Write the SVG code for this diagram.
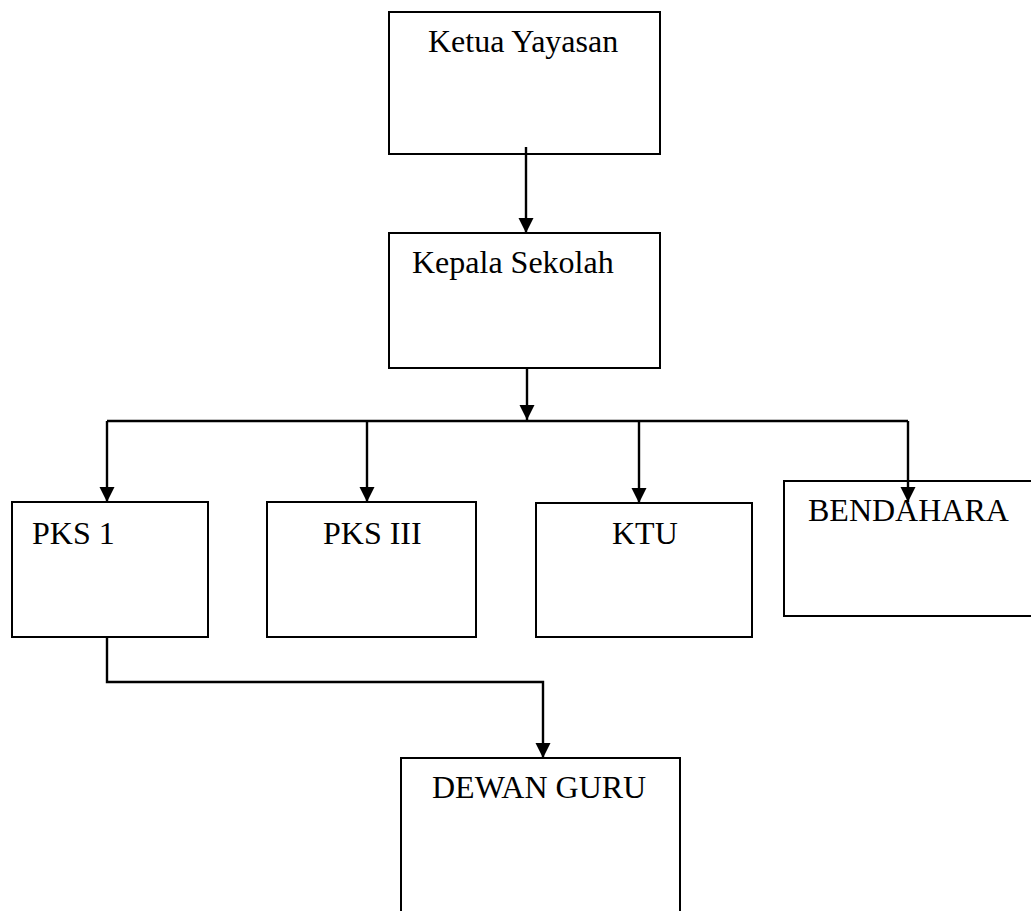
<svg xmlns="http://www.w3.org/2000/svg" width="1031" height="911" viewBox="0 0 1031 911">
<style>
.box{fill:#fff;stroke:#000;stroke-width:2}
.lbl{font-family:"Liberation Serif","Times New Roman",serif;font-size:32px;fill:#000}
.con{fill:none;stroke:#000;stroke-width:2.4}
</style>
<defs>
<marker id="ah" markerUnits="userSpaceOnUse" markerWidth="16" markerHeight="16" viewBox="0 0 16 16" refX="15" refY="8" orient="auto">
<path d="M0,0.5 L15,8 L0,15.5 Z" fill="#000"/>
</marker>
</defs>
<rect width="1031" height="911" fill="#fff"/>
<g id="ketua"><rect class="box" x="389" y="12" width="271" height="142"/><text class="lbl" x="428" y="52">Ketua Yayasan</text></g>
<g id="kepala"><rect class="box" x="389" y="233" width="271" height="135"/><text class="lbl" x="412" y="273">Kepala Sekolah</text></g>
<g id="pks1"><rect class="box" x="12" y="502" width="196" height="135"/><text class="lbl" x="32" y="544">PKS 1</text></g>
<g id="pks3"><rect class="box" x="267" y="502" width="209" height="135"/><text class="lbl" x="323" y="544">PKS III</text></g>
<g id="ktu"><rect class="box" x="536" y="503" width="216" height="134"/><text class="lbl" x="612" y="544">KTU</text></g>
<g id="bendahara"><rect class="box" x="784" y="481" width="260" height="135"/><text class="lbl" x="808" y="521">BENDAHARA</text></g>
<g id="dewan"><rect class="box" x="401" y="758" width="279" height="200"/><text class="lbl" x="432" y="798">DEWAN GURU</text></g>
<g id="connectors">
<path class="con" d="M526,147 V233" marker-end="url(#ah)"/>
<path class="con" d="M527,368 V420" marker-end="url(#ah)"/>
<path class="con" d="M107,421 H908"/>
<path class="con" d="M107,421 V502" marker-end="url(#ah)"/>
<path class="con" d="M367,421 V502" marker-end="url(#ah)"/>
<path class="con" d="M639,421 V503" marker-end="url(#ah)"/>
<path class="con" d="M908,421 V502" marker-end="url(#ah)"/>
<path class="con" d="M107,637 V682 H543 V758" marker-end="url(#ah)"/>
</g>
</svg>
